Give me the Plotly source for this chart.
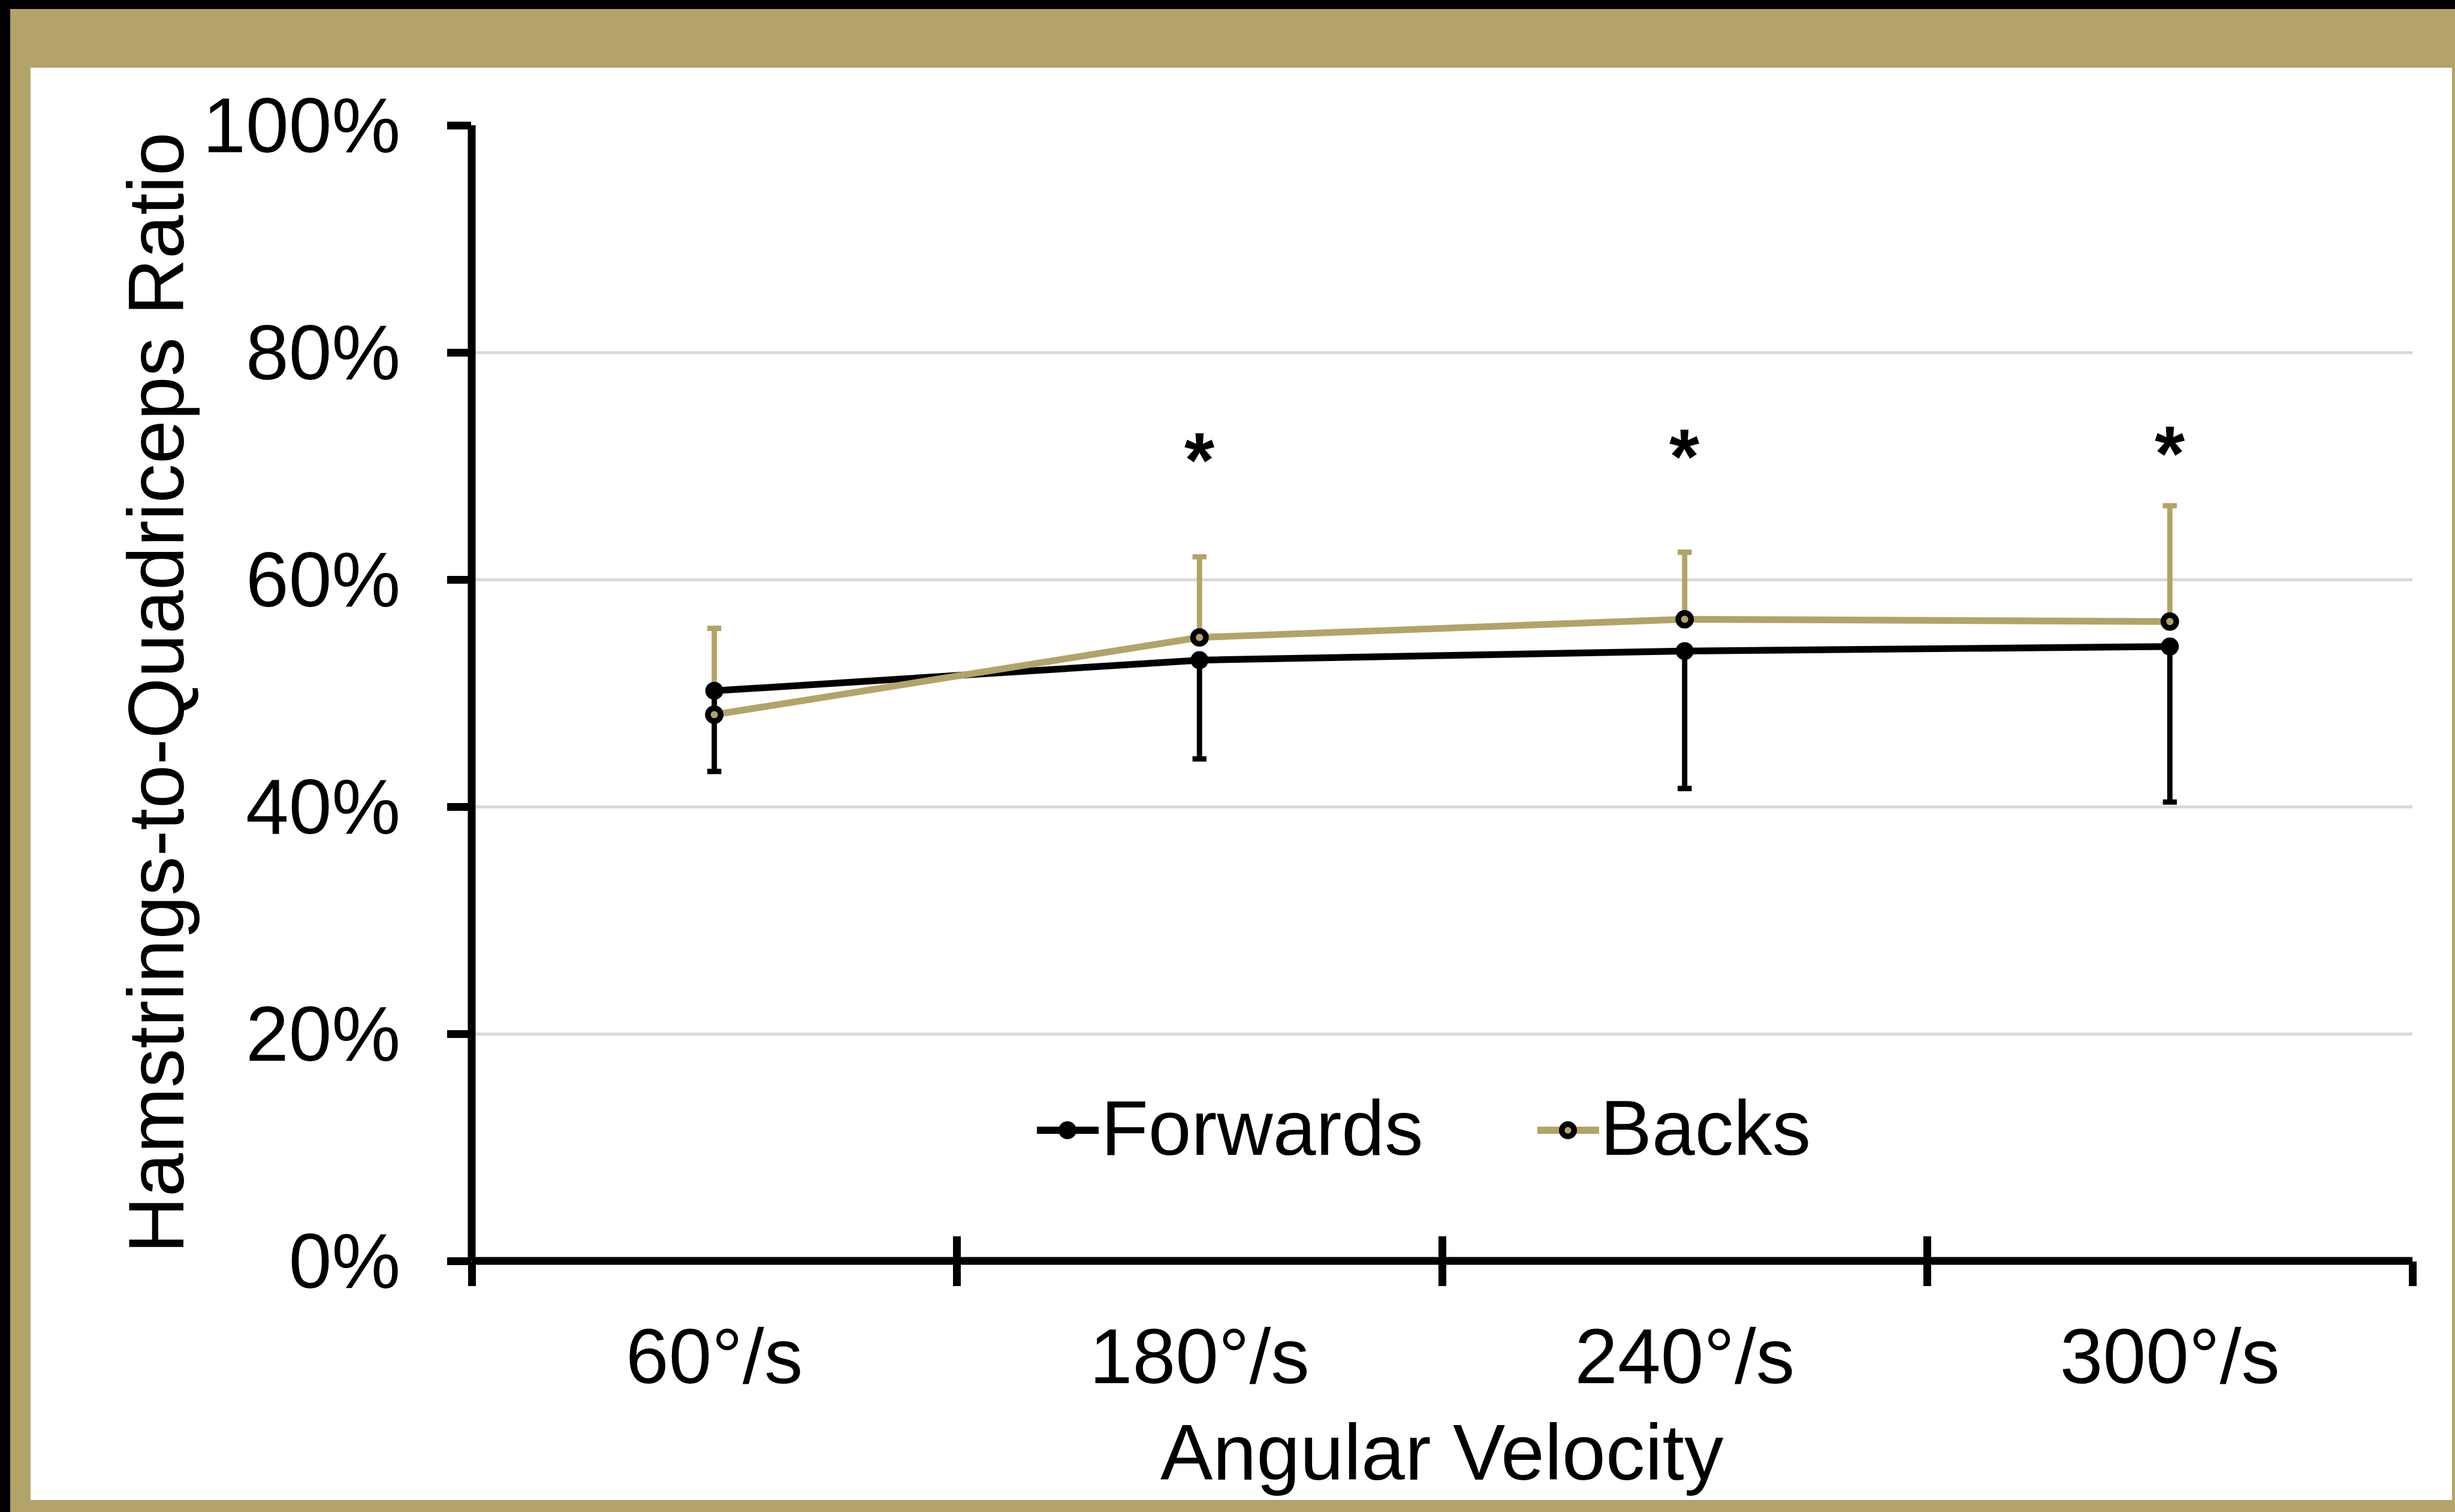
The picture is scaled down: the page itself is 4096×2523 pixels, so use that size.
import plotly.graph_objects as go

# ---------------- data ----------------
categories = ["60°/s", "180°/s", "240°/s", "300°/s"]
forwards_mean = [50.2, 52.9, 53.7, 54.1]
forwards_sd = [7.1, 8.7, 12.1, 13.7]
backs_mean = [48.1, 54.9, 56.5, 56.3]
backs_sd = [7.6, 7.1, 5.9, 10.2]
y_ticks = [0, 20, 40, 60, 80, 100]
y_tick_labels = [f"{v}%" for v in y_ticks]
significance = ["", "*", "*", "*"]
asterisk_y = [None, 70.5, 70.8, 71.1]
series_names = ["Forwards", "Backs"]

# ---------------- geometry ----------------
W, H = 4096, 2523
L, R, T, B = 787, 71, 209, 419
PW = W - L - R
PH = H - T - B


def px_x(px):
    return (px - L) / PW


def px_y(py):
    return (H - B - py) / PH


GOLD = "#B3A369"
FONT = "Liberation Sans, Arial, sans-serif"
FS = 129
FS_TITLE = 131

LINE_W = 11.2
ERR_T = 8.9
ERR_W = 11.7

zeros = [0] * len(categories)
boundaries = [i - 0.5 for i in range(len(categories) + 1)]

fig = go.Figure()

# Backs error bars (drawn beneath the Forwards markers)
fig.add_trace(go.Scatter(
    x=categories, y=backs_mean, mode="markers",
    marker=dict(size=2, color="rgba(0,0,0,0)"),
    error_y=dict(type="data", symmetric=False, array=backs_sd, arrayminus=zeros,
                 color=GOLD, thickness=ERR_T, width=ERR_W),
    showlegend=False, hoverinfo="skip"))

fig.add_trace(go.Scatter(
    x=categories, y=forwards_mean, name=series_names[0], mode="lines+markers",
    line=dict(color="black", width=LINE_W),
    marker=dict(symbol="circle", size=30, color="black", line=dict(width=0)),
    error_y=dict(type="data", symmetric=False, array=zeros, arrayminus=forwards_sd,
                 color="black", thickness=ERR_T, width=ERR_W),
    showlegend=False))

fig.add_trace(go.Scatter(
    x=categories, y=backs_mean, name=series_names[1], mode="lines+markers",
    line=dict(color=GOLD, width=LINE_W),
    marker=dict(symbol="circle", size=21.5, color=GOLD,
                line=dict(color="black", width=9.4)),
    showlegend=False))

# invisible traces carrying the boundary tick axes (crossing tick marks)
for ax in ("x2", "x3"):
    fig.add_trace(go.Scatter(x=boundaries, y=[None] * len(boundaries), xaxis=ax,
                             mode="markers", showlegend=False, hoverinfo="skip"))

annotations = []
for cat, sig, ay in zip(categories, significance, asterisk_y):
    if sig:
        annotations.append(dict(x=cat, y=ay, xref="x", yref="y", text="<b>" + sig + "</b>",
                                showarrow=False, xanchor="center", yanchor="middle",
                                font=dict(family=FONT, size=FS, color="black")))
annotations.append(dict(x=0.5, y=px_y(2423), xref="paper", yref="paper",
                        text="Angular Velocity", showarrow=False,
                        xanchor="center", yanchor="middle",
                        font=dict(family=FONT, size=FS_TITLE, color="black")))
annotations.append(dict(x=px_x(260), y=0.5, xref="paper", yref="paper",
                        text="Hamstrings-to-Quadriceps Ratio", showarrow=False,
                        textangle=-90, xanchor="center", yanchor="middle",
                        font=dict(family=FONT, size=FS_TITLE, color="black")))

shapes = [
    dict(type="rect", xref="paper", yref="paper", x0=px_x(17), x1=px_x(W + 20),
         y0=px_y(15), y1=px_y(H + 20), fillcolor=GOLD, line=dict(width=0), layer="below"),
    dict(type="rect", xref="paper", yref="paper", x0=px_x(51), x1=px_x(4091),
         y0=px_y(113), y1=px_y(2503), fillcolor="white", line=dict(width=0), layer="below"),
    dict(type="line", xref="paper", yref="paper", x0=0, x1=1, y0=0, y1=0,
         line=dict(color="black", width=13), layer="above"),
    dict(type="line", xref="paper", yref="paper", x0=0, x1=0, y0=0, y1=1,
         line=dict(color="black", width=13), layer="above"),
]

# ---------------- legend (drawn by hand for Excel-like symbols) ----------------
legend_y = 1886
legend_entries = [
    # name, line colour, line x-range, marker centre, marker fill, marker outline, text x
    (series_names[0], "black", (1730, 1833), 1781, "black", 0, 1836),
    (series_names[1], GOLD, (2565, 2668), 2616, GOLD, 9.4, 2669),
]
for name, lcol, (lx0, lx1), mx, mfill, mline, tx in legend_entries:
    shapes.append(dict(type="line", xref="paper", yref="paper",
                       x0=px_x(lx0), x1=px_x(lx1), y0=px_y(legend_y), y1=px_y(legend_y),
                       line=dict(color=lcol, width=12), layer="above"))
    r = (30 - mline) / 2
    shapes.append(dict(type="circle", xref="paper", yref="paper",
                       xsizemode="pixel", ysizemode="pixel",
                       xanchor=px_x(mx), yanchor=px_y(legend_y),
                       x0=-r, x1=r, y0=-r, y1=r,
                       fillcolor=mfill,
                       line=dict(color="black", width=mline if mline else 0),
                       layer="above"))
    annotations.append(dict(x=px_x(tx), y=px_y(legend_y - 4), xref="paper", yref="paper",
                            text=name, showarrow=False, xanchor="left", yanchor="middle",
                            borderpad=0,
                            font=dict(family=FONT, size=FS, color="black")))

tick_axis = dict(overlaying="x", anchor="y", type="linear", range=[-0.5, 3.5],
                 tickmode="array", tickvals=boundaries, ticklen=41, tickwidth=13,
                 tickcolor="black", showticklabels=False, showgrid=False,
                 zeroline=False, showline=False, fixedrange=True)

fig.update_layout(
    width=W, height=H,
    margin=dict(l=L, r=R, t=T, b=B, pad=0, autoexpand=False),
    paper_bgcolor="black", plot_bgcolor="white",
    font=dict(family=FONT, size=FS, color="black"),
    xaxis=dict(type="category", range=[-0.5, 3.5], showgrid=False, zeroline=False,
               showline=False, ticks="", tickfont=dict(size=FS),
               ticklabelstandoff=74, fixedrange=True),
    xaxis2=dict(tick_axis, ticks="outside"),
    xaxis3=dict(tick_axis, ticks="inside"),
    yaxis=dict(range=[0, 100], tickmode="array", tickvals=y_ticks, ticktext=y_tick_labels,
               ticks="outside", ticklen=40, tickwidth=13, tickcolor="black",
               showgrid=True, gridcolor="#D9D9D9", gridwidth=4.5,
               zeroline=False, showline=False, ticklabelstandoff=52,
               tickfont=dict(size=FS), fixedrange=True),
    shapes=shapes,
    annotations=annotations,
    showlegend=False,
)

fig.write_html("out.html", config={"displayModeBar": False},
               post_script="document.body.style.margin='0';")
